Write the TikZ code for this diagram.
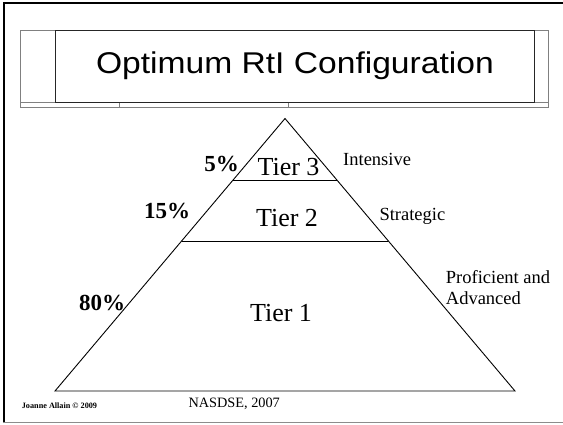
\documentclass[tikz,border=0pt]{standalone}
\usepackage{fontspec}
\setmainfont{Liberation Serif}
\newfontfamily\titlefont{Liberation Sans}
\usetikzlibrary{calc}
\tikzset{
  frameblack/.style={line width=2pt, black},
  framegray/.style={line width=1.2pt, black!45},
  outerbox/.style={line width=1pt, black!50},
  innerbox/.style={line width=1pt, black!85},
  pyr/.style={line width=0.9pt, black},
  tierlabel/.style={font=\fontsize{26}{30}\selectfont, inner sep=0pt, anchor=base},
  pct/.style={font=\fontsize{23}{27}\selectfont\bfseries, inner sep=0pt, anchor=base},
  sidelabel/.style={font=\fontsize{18.5}{21}\selectfont, inner sep=0pt, anchor=base west, align=left},
}
\begin{document}
\begin{tikzpicture}[x=1pt,y=-1pt]
\useasboundingbox (0,0) rectangle (563,424);
% slide frame
\coordinate (ftl) at (4,3);
\coordinate (fbl) at (4,423);
\coordinate (ftr) at (563,3);
\coordinate (fbr) at (563,422.5);
\draw[frameblack] (fbl) -- (ftl) -- (ftr);
\draw[framegray] (3,422.5) -- (fbr);
% title box
\draw[outerbox] (20.7,30) rectangle (548,107);
\draw[outerbox] (20.7,102) -- (548,102);
\draw[outerbox] (119.3,102) -- (119.3,107);
\draw[outerbox] (288,102) -- (288,107);
\draw[innerbox] (55,30) rectangle (534.7,102);
\node[inner sep=0pt] (title) at (294.9,66)
  {\titlefont\fontsize{30}{36}\selectfont\scalebox{1.12}[1]{Optimum RtI Configuration}};
% pyramid
\coordinate (apex) at (285,118.5);
\coordinate (bl) at (55,391);
\coordinate (br) at (515,391);
\draw[pyr] (apex) -- (bl) -- (br) -- cycle;
\coordinate (t3l) at ($(apex)!0.2257!(bl)$);
\coordinate (t3r) at ($(apex)!0.2257!(br)$);
\coordinate (t2l) at ($(apex)!0.4495!(bl)$);
\coordinate (t2r) at ($(apex)!0.4495!(br)$);
\draw[pyr] (t3l) -- (t3r);
\draw[pyr] (t2l) -- (t2r);
% tier labels
\node[tierlabel] (tier3) at (288.5,175) {Tier 3};
\node[tierlabel] (tier2) at (287,226.7) {Tier 2};
\node[tierlabel] (tier1) at (281,321.7) {Tier 1};
% percentages
\node[pct] (p5) at (221.5,171.7) {5\%};
\node[pct] (p15) at (167,218) {15\%};
\node[pct] (p80) at (102,310.7) {80\%};
% side labels
\node[sidelabel] (intensive) at (343,165) {Intensive};
\node[sidelabel] (strategic) at (379.3,220.7) {Strategic};
\node[sidelabel] (prof) at (445.7,283.3) {Proficient and};
\node[sidelabel] (adv) at (445.7,304) {Advanced};
% footer
\node[inner sep=0pt, anchor=base west, font=\fontsize{8.2}{10}\selectfont\bfseries] (author) at (21.7,408) {Joanne Allain © 2009};
\node[inner sep=0pt, anchor=base west, font=\fontsize{14.3}{17}\selectfont] (source) at (188.3,407.3) {NASDSE, 2007};
\end{tikzpicture}
\end{document}
